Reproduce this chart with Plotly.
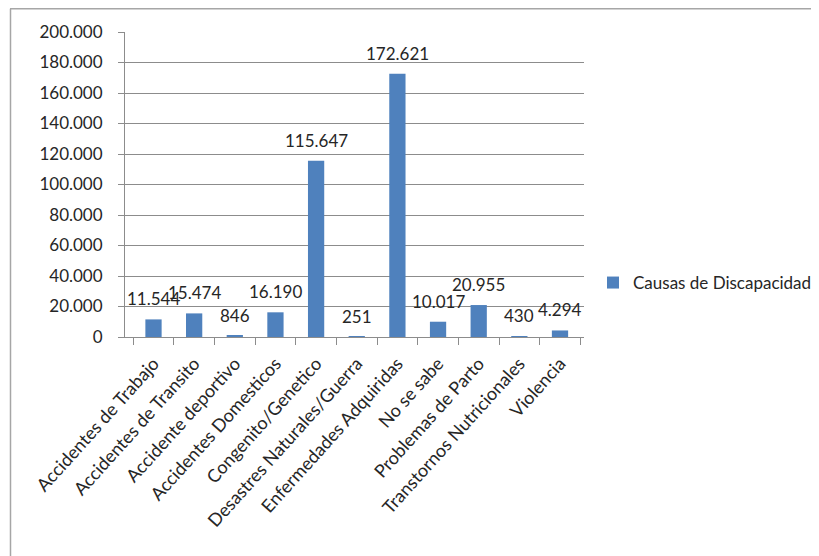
import plotly.graph_objects as go

categories = ["Accidentes de Trabajo", "Accidentes de Transito", "Accidente deportivo",
              "Accidentes Domesticos", "Congenito/Genetico", "Desastres Naturales/Guerra",
              "Enfermedades Adquiridas", "No se sabe", "Problemas de Parto",
              "Transtornos Nutricionales", "Violencia"]
values = [11544, 15474, 846, 16190, 115647, 251, 172621, 10017, 20955, 430, 4294]
series_name = "Causas de Discapacidad"
y_ticks = [0, 20000, 40000, 60000, 80000, 100000, 120000, 140000, 160000, 180000, 200000]

FONT = "Lato"
TXT = "#262626"
GRID = "#8c8c8c"

# page body has an 8px margin, so the figure is laid out 8px up/left
W, H = 811, 548
L, T, PW, PH = 117, 24, 459, 305

def fmt(v):
    return f"{v:,}".replace(",", ".")

fig = go.Figure()
fig.add_trace(go.Bar(
    x=categories, y=values, name=series_name,
    marker=dict(color="#4f81bd", line=dict(width=0)),
    showlegend=True,
))

for c, v in zip(categories, values):
    fig.add_annotation(x=c, y=v, text=fmt(v), showarrow=False,
                       xref="x", yref="y", yanchor="bottom", yshift=8,
                       font=dict(family=FONT, size=17, color=TXT))

def px(x):
    return (x - L) / PW

def py(y):
    return (T + PH - y) / PH

fig.update_layout(
    width=W, height=H,
    margin=dict(l=L, r=W - L - PW, t=T, b=H - T - PH, autoexpand=False),
    paper_bgcolor="white", plot_bgcolor="white",
    separators=",.",
    bargap=0.6,
    font=dict(family=FONT, size=17, color=TXT),
    legend=dict(x=px(585), y=py(275), xanchor="left", yanchor="middle",
                itemwidth=30,
                font=dict(family=FONT, size=17, color=TXT),
                bgcolor="rgba(0,0,0,0)"),
    shapes=[
        dict(type="line", xref="paper", yref="paper",
             x0=px(2), x1=px(W + 5), y0=py(0.75), y1=py(0.75),
             line=dict(color="#a6a6a6", width=1.5)),
        dict(type="line", xref="paper", yref="paper",
             x0=px(2.5), x1=px(2.5), y0=py(0.75), y1=py(H + 5),
             line=dict(color="#a6a6a6", width=1.5)),
    ],
)

fig.update_xaxes(
    type="category", showline=True, linecolor=GRID, linewidth=1,
    ticks="outside", tickson="boundaries", ticklen=7, tickcolor=GRID,
    tickangle=-48, showgrid=False, automargin=False, ticklabelstandoff=8,
    tickfont=dict(family=FONT, size=18, color=TXT),
)
fig.update_yaxes(
    range=[0, 200000], tickvals=y_ticks, tickformat=",d",
    showline=True, linecolor=GRID, linewidth=1,
    ticks="outside", ticklen=6, tickcolor=GRID, automargin=False,
    ticklabelstandoff=12,
    showgrid=True, gridcolor=GRID, gridwidth=1, zeroline=False,
    tickfont=dict(family=FONT, size=17, color=TXT),
)

fig.write_html("out.html")
